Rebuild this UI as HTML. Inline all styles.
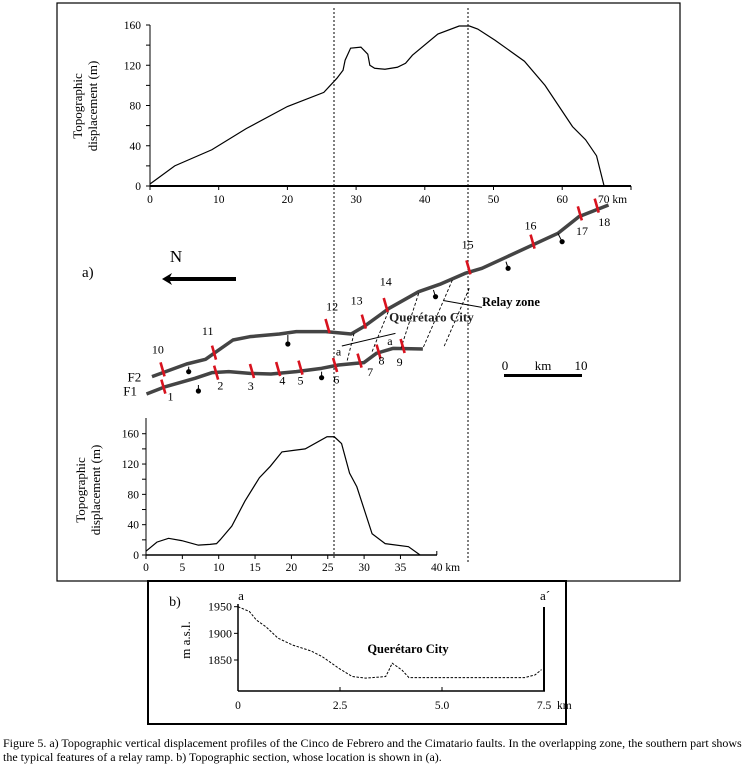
<!DOCTYPE html>
<html><head><meta charset="utf-8"><style>
html,body{margin:0;padding:0;background:#fff;}
svg{display:block;font-family:"Liberation Serif",serif;}
.cap{position:absolute;left:3px;top:736px;font:12px/14px "Liberation Serif",serif;color:#000;width:742px;white-space:nowrap;}
</style></head><body>
<div style="position:relative;width:743px;height:770px;overflow:hidden;">
<svg id="fig" width="743" height="770" xmlns="http://www.w3.org/2000/svg"></svg>
<div class="cap">Figure 5. a) Topographic vertical displacement profiles of the Cinco de Febrero and the Cimatario faults. In the overlapping zone, the southern part shows<br>the typical features of a relay ramp. b) Topographic section, whose location is shown in (a).</div>
</div>
<script>
// Top profile (Cinco de Febrero)
const topKm=[0,3.6,9,14,20,25.3,27.2,28.1,28.4,29.2,30.7,31.7,32,32.7,34.2,36,37.2,38.2,41.9,45,46.5,47.7,50.2,54.5,57.5,61.5,63.4,65,66.1];
const topVal=[2,20,36,57,79,93,107,115,125,137,138,131,120,117,116,118,122,130,151,159,159,156,145,124,100,59,46,30,0];
const topXTicks=[0,10,20,30,40,50,60];
const topYTicks=[0,40,80,120,160];
// Bottom profile (Cimatario)
const botKm=[0,1.5,3.1,4.9,7.2,8.8,9.7,10.2,11.8,13.6,15.6,17.1,18.7,20.3,21.9,24.9,25.9,26.9,28,29,31.1,32.9,36.1,37.7];
const botVal=[5,17,22,19,13,14,15,20,38,71,102,117,136,138,140,156,156,147,108,90,28,15,11,0];
const botXTicks=[0,5,10,15,20,25,30,35];
const botYTicks=[0,40,80,120,160];
// Section a-a'
const secKm=[0,0.28,0.45,0.69,0.98,1.34,1.79,2.07,2.48,2.8,3.13,3.62,3.68,3.78,4.02,4.19,5.4,7.03,7.28,7.44];
const secElev=[1950,1941,1925,1912,1891,1878,1867,1856,1834,1819,1816,1819,1828,1844,1831,1817,1817,1817,1822,1832];
const secXTicks=["0","2.5","5.0","7.5"];
const secXVals=[0,2.5,5,7.5];
const secYTicks=[1950,1900,1850];

const S=document.getElementById('fig');const NS='http://www.w3.org/2000/svg';
function el(t,a,txt){const e=document.createElementNS(NS,t);for(const k in a)e.setAttribute(k,a[k]);if(txt!==undefined)e.textContent=txt;S.appendChild(e);return e;}
function line(x1,y1,x2,y2,st,w,da){return el('line',{x1,y1,x2,y2,stroke:st||'#000','stroke-width':w||1,'stroke-dasharray':da||'none'});}
function text(x,y,s,size,anchor,extra){const a={x,y,'font-size':size||12,'text-anchor':anchor||'middle',fill:'#000'};Object.assign(a,extra||{});return el('text',a,s);}

let f=el('rect',{x:57,y:3,width:623,height:578,fill:'none',stroke:'#000','stroke-width':1.2});

f=el('rect',{x:148,y:581,width:418,height:143,fill:'none',stroke:'#000','stroke-width':2});


line(334,8,334,560,'#000',1,'2,2');
line(468,8,468,563,'#000',1,'2,2');

// top chart
const tx=k=>150+6.87*k, ty=v=>186-v*161/160;
line(150,186,631,186,'#000',2);
line(150,25,150,186,'#000',1);
topXTicks.forEach(k=>{line(tx(k),186,tx(k),190);let t=text(tx(k),203,String(k),11.5);});
line(631,186,631,190);
let t=text(598,203,'70 km',11.5,'start');
for(let v=0;v<=160;v+=20){line(146,ty(v),150,ty(v));}
topYTicks.forEach(v=>{let t=text(141,ty(v)+4,String(v),11.5,'end');});
let g=text(0,0,'Topographic',13,'middle',{transform:'translate(82,106) rotate(-90)'});
g=text(0,0,'displacement (m)',13,'middle',{transform:'translate(97,106) rotate(-90)'});
let p=el('polyline',{points:topKm.map((k,i)=>tx(k)+','+ty(topVal[i])).join(' '),fill:'none',stroke:'#000','stroke-width':1.2});


// map
const z=(a,b)=>[60+a/2.37,190+b/3];
const F2=[[218,560],[300,522],[345,508],[365,490],[410,450],[450,440],[520,432],[560,425],[630,425],[690,432],[720,410],[780,355],[850,305],[900,283],[960,250],[1000,235],[1060,200],[1180,130],[1230,80],[1300,45]];
const F1=[[205,612],[250,590],[320,565],[360,548],[400,545],[450,550],[500,552],[560,545],[620,535],[660,525],[700,520],[720,518],[750,490],[790,475],[860,477]];
[[F2,'fault-f2'],[F1,'fault-f1']].forEach(([pts,n])=>{const e=el('polyline',{points:pts.map(q=>z(q[0],q[1]).join(',')).join(' '),fill:'none',stroke:'#444','stroke-width':3.5,'stroke-linejoin':'round'});});
[[[697,430],[680,515]],[[778,365],[738,490]],[[850,310],[808,475]],[[930,270],[860,475]],[[970,295],[910,470]]].forEach(s=>{const a=z(...s[0]),b=z(...s[1]);line(a[0],a[1],b[0],b[1],'#000',0.9,'3,2');});
let a1=z(668,468),a2=z(795,430);line(a1[0],a1[1],a2[0],a2[1],'#000',1);
const ticks=[[245,590,262,632,'1'],[370,548,380,598,'2'],[455,543,452,600,'3'],[517,537,527,583,'4'],[570,533,570,583,'5'],[652,525,655,580,'6'],[710,512,735,558,'7'],[755,485,762,523,'8'],[812,468,805,528,'9'],[243,538,232,490,'10'],[365,488,350,435,'11'],[634,408,645,362,'12'],[720,395,703,343,'13'],[772,345,772,286,'14'],[968,232,966,175,'15'],[1120,155,1115,118,'16'],[1232,70,1237,135,'17'],[1272,47,1290,108,'18']];
ticks.forEach(q=>{const c=z(q[0],q[1]);const r=line(c[0]-2,c[1]-7,c[0]+2,c[1]+7,'#d8131f',2.6);const l=z(q[2],q[3]);const tt=text(l[0],l[1],q[4],12);});
[[305,530,305,545],[328,585,328,603],[540,435,540,462],[620,545,620,563],[885,300,890,320],[1057,215,1062,235],[1180,130,1190,155]].forEach(q=>{const a=z(q[0],q[1]),b=z(q[2],q[3]);line(a[0],a[1],b[0],b[1],'#000',1);el('circle',{cx:b[0],cy:b[1],r:2.6,fill:'#000'});});
let c=z(660,497);text(c[0],c[1],'a',12);c=z(782,465);text(c[0],c[1],'a',12);
c=z(780,395);g=text(c[0],c[1],'Querétaro City',13,'start',{'font-weight':'bold',fill:'#222'});
a1=z(910,332);a2=z(1000,352);line(a1[0],a1[1],a2[0],a2[1]);
c=z(1000,348);g=text(c[0],c[1],'Relay zone',12.5,'start',{'font-weight':'bold'});
text(z(160,562)[0],z(160,562)[1]+4,'F2',13,'start');text(z(150,640)[0],z(150,640)[1]-8,'F1',13,'start');
g=text(176,262,'N',17);
el('polygon',{points:'162,279 172,273 170,277 236,277 236,281 170,281 172,285',fill:'#000'});
g=text(82,277,'a)',15,'start');
el('rect',{x:504,y:374,width:78,height:3,fill:'#000'});
text(505,370,'0',13);text(543,370,'km',13);text(581,370,'10',13);

// bottom chart
const bx=k=>146+7.27*k, by=v=>555-v*0.758;
line(146,555,437,555,'#000',1.5);
line(146,418,146,555,'#000',1);
botXTicks.forEach(k=>{line(bx(k),555,bx(k),559);const tt=text(bx(k),571,String(k),11.5);});
line(bx(40),551,bx(40),555);text(431,571,'40 km',11.5,'start');
for(let v=0;v<=160;v+=20)line(142,by(v),146,by(v));
botYTicks.forEach(v=>{const tt=text(139,by(v)+4,String(v),11.5,'end');});
text(0,0,'Topographic',13,'middle',{transform:'translate(85,490) rotate(-90)'});
text(0,0,'displacement (m)',13,'middle',{transform:'translate(100,490) rotate(-90)'});
p=el('polyline',{points:botKm.map((k,i)=>bx(k)+','+by(botVal[i])).join(' '),fill:'none',stroke:'#000','stroke-width':1.2});


// section b
const sx=k=>238+40.8*k, sy=e=>606.7+(1950-e)*0.533;
line(238,604,238,691,'#000',1.5);
line(238,691,545,691,'#000',1.5);
line(544,607,544,691,'#000',2);
secXVals.forEach((k,i)=>{line(sx(k),687,sx(k),691);const tt=text(sx(k),709,secXTicks[i],11.5);});
text(557,709,'km',11.5,'start');
secYTicks.forEach(e=>{line(234,sy(e),238,sy(e));const tt=text(232,sy(e)+4,String(e),12,'end');});
text(0,0,'m a.s.l.',13,'middle',{transform:'translate(190,640) rotate(-90)'});
text(175,606,'b)',14,'middle');
text(241,600,'a',13,'middle');text(545,600,'a´',13,'middle');
text(408,653,'Querétaro City',12.5,'middle',{'font-weight':'bold'});
p=el('polyline',{points:secKm.map((k,i)=>sx(k)+','+sy(secElev[i])).join(' '),fill:'none',stroke:'#000','stroke-width':1,'stroke-dasharray':'2.5,1.5'});

</script>
</body></html>
